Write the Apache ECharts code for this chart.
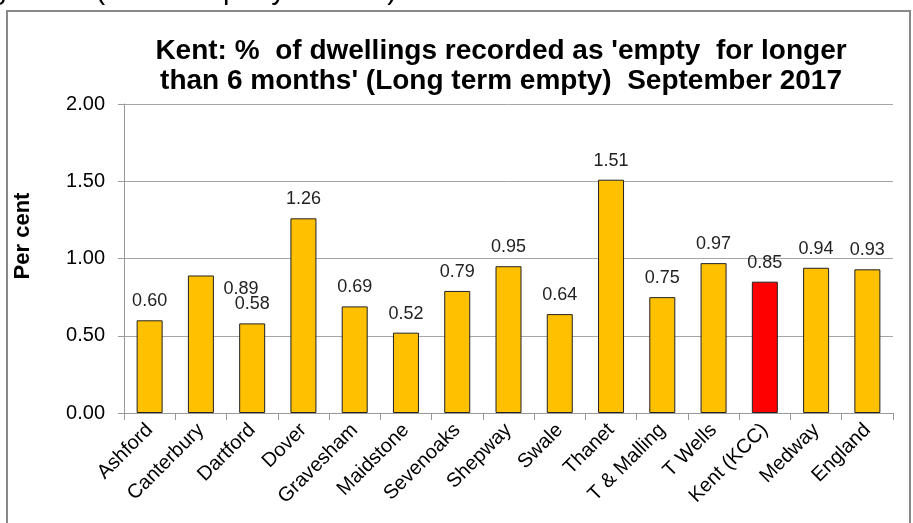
<!DOCTYPE html>
<html>
<head>
<meta charset="utf-8">
<script src="https://cdn.jsdelivr.net/npm/echarts@6/dist/echarts.min.js"></script>
<style>
  html, body { margin: 0; padding: 0; background: #fff; }
  #chart { width: 913px; height: 523px; }
</style>
</head>
<body>
<div id="chart"></div>
<script>
// 各区数据
const categories = ['Ashford', 'Canterbury', 'Dartford', 'Dover', 'Gravesham', 'Maidstone',
  'Sevenoaks', 'Shepway', 'Swale', 'Thanet', 'T & Malling', 'T Wells', 'Kent (KCC)', 'Medway', 'England']
const values = [0.60, 0.89, 0.58, 1.26, 0.69, 0.52, 0.79, 0.95, 0.64, 1.51, 0.75, 0.97, 0.85, 0.94, 0.93]
const highlight = 'Kent (KCC)'
const yMin = 0
const yMax = 2
const yStep = 0.5

const FONT = '"Liberation Sans", Arial, sans-serif'

let seriesData = values.map((v, i) => {
  let item = {
    value: v,
    itemStyle: { color: categories[i] === highlight ? '#FF0000' : '#FFC000' }
  }
  // Canterbury 的标签在原图里偏到了 Dartford 上方
  if (categories[i] === 'Canterbury') {
    item.label = { offset: [40, 33] }
  }
  return item
})

let myChart = echarts.init(document.getElementById('chart'))
let option = {
  animation: false,
  textStyle: { fontFamily: FONT },
  graphic: [
    {
      type: 'text',
      right: 913 - 397,
      top: -24,
      style: { text: 'Figure 1c (to accompany Table 1)', font: '29px ' + FONT, fill: '#000' }
    },
    {
      type: 'rect',
      shape: { x: 7, y: 11, width: 903, height: 530 },
      style: { fill: 'none', stroke: '#888', lineWidth: 2 },
      z: -1
    },
    {
      type: 'text',
      x: 23,
      y: 236,
      rotation: Math.PI / 2,
      style: {
        text: 'Per cent',
        font: 'bold 22px ' + FONT,
        fill: '#000',
        align: 'center',
        verticalAlign: 'middle'
      }
    }
  ],
  title: {
    text: "Kent: %  of dwellings recorded as 'empty  for longer\nthan 6 months' (Long term empty)  September 2017",
    left: 496,
    textAlign: 'center',
    top: 31,
    textStyle: {
      fontFamily: FONT,
      fontWeight: 'bold',
      fontSize: 28,
      lineHeight: 30,
      color: '#000'
    }
  },
  grid: {
    left: 124,
    right: 20,
    top: 104,
    bottom: 110,
    containLabel: false
  },
  xAxis: {
    type: 'category',
    data: categories,
    axisLine: { lineStyle: { color: '#999', width: 1 } },
    axisTick: { show: true, length: 7, lineStyle: { color: '#999' } },
    axisLabel: {
      rotate: 45,
      interval: 0,
      fontSize: 20,
      color: '#000',
      margin: 14,
      fontFamily: FONT
    }
  },
  yAxis: {
    type: 'value',
    min: yMin,
    max: yMax,
    interval: yStep,
    axisLine: { show: true, lineStyle: { color: '#999' } },
    axisTick: { show: true, length: 6, lineStyle: { color: '#999' } },
    splitLine: { lineStyle: { color: '#A6A6A6', width: 1 } },
    axisLabel: {
      formatter: (v) => v.toFixed(2),
      fontSize: 20,
      color: '#000',
      margin: 19,
      fontFamily: FONT
    }
  },
  series: [
    {
      type: 'bar',
      data: seriesData,
      barWidth: 26,
      itemStyle: { borderColor: '#222', borderWidth: 1 },
      label: {
        show: true,
        position: 'top',
        distance: 10,
        formatter: (p) => p.value.toFixed(2),
        fontSize: 18,
        color: '#222',
        fontFamily: FONT
      }
    }
  ]
}
myChart.setOption(option)
</script>
</body>
</html>
